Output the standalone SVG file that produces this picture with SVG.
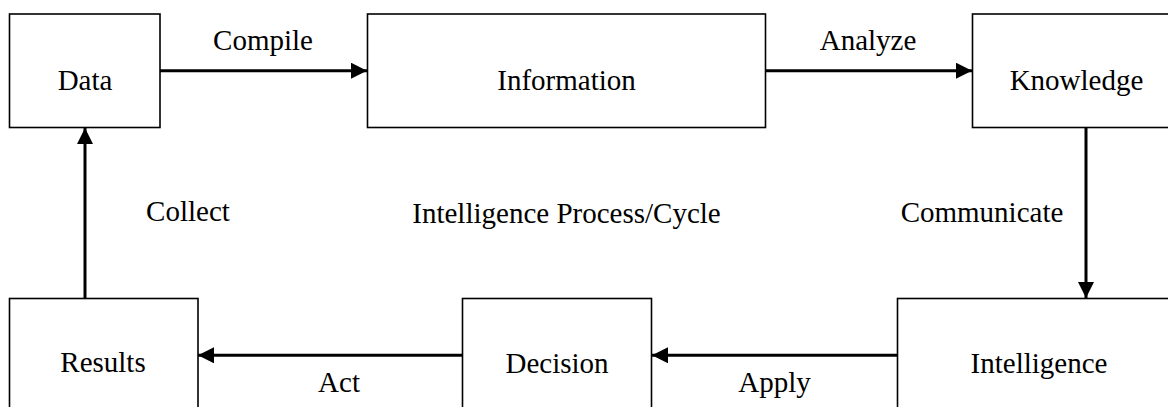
<svg xmlns="http://www.w3.org/2000/svg" width="1168" height="407" viewBox="0 0 1168 407">
<style>
.box{fill:#fff;stroke:#000;stroke-width:1.6}
.lbl{font-family:"Liberation Serif","Times New Roman",serif;font-size:29px;fill:#000;text-anchor:middle}
.con{stroke:#000;stroke-width:3;fill:none;marker-end:url(#ah)}
</style>
<defs>
<marker id="ah" markerUnits="userSpaceOnUse" markerWidth="16" markerHeight="16" refX="16" refY="8" orient="auto" viewBox="0 0 16 16">
<path d="M0,0 L16,8 L0,16 Z" fill="#000"/>
</marker>
</defs>
<rect width="1168" height="407" fill="#fff"/>
<g id="data"><rect class="box" x="9.5" y="14" width="150.5" height="113.5"/><text class="lbl" x="85" y="90">Data</text></g>
<g id="information"><rect class="box" x="367.5" y="14" width="398" height="113.5"/><text class="lbl" x="566.5" y="90">Information</text></g>
<g id="knowledge"><rect class="box" x="972.5" y="14" width="210" height="113.5"/><text class="lbl" x="1076.5" y="90">Knowledge</text></g>
<g id="intelligence"><rect class="box" x="897.5" y="298.5" width="290" height="130"/><text class="lbl" x="1039" y="373">Intelligence</text></g>
<g id="decision"><rect class="box" x="462.5" y="298.5" width="189" height="130"/><text class="lbl" x="557" y="373">Decision</text></g>
<g id="results"><rect class="box" x="9.5" y="298.5" width="188.5" height="130"/><text class="lbl" x="103" y="372">Results</text></g>
<g id="connectors">
<line class="con" x1="160" y1="70.7" x2="367" y2="70.7"/>
<line class="con" x1="766" y1="70.7" x2="972" y2="70.7"/>
<line class="con" x1="1086" y1="127.5" x2="1086" y2="298"/>
<line class="con" x1="897" y1="355.3" x2="652" y2="355.3"/>
<line class="con" x1="462" y1="355.3" x2="198" y2="355.3"/>
<line class="con" x1="85" y1="298" x2="85" y2="128"/>
</g>
<g id="labels">
<text class="lbl" x="263" y="50">Compile</text>
<text class="lbl" x="868" y="50">Analyze</text>
<text class="lbl" x="982" y="222">Communicate</text>
<text class="lbl" x="774.5" y="392">Apply</text>
<text class="lbl" x="339" y="392">Act</text>
<text class="lbl" x="188" y="221">Collect</text>
<text class="lbl" x="566.5" y="223">Intelligence Process/Cycle</text>
</g>
</svg>
